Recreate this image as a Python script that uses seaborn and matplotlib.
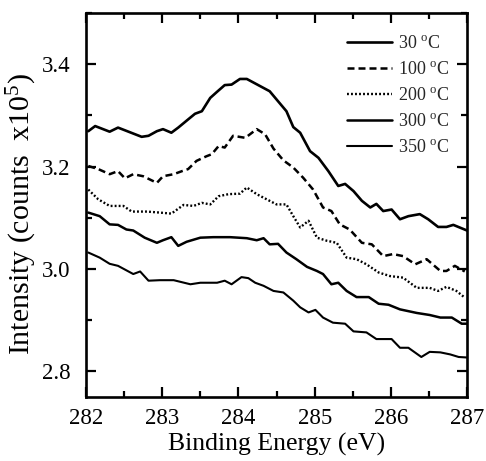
import seaborn as sns
import matplotlib.pyplot as plt
from matplotlib.ticker import MultipleLocator

# --- data ---
e_30 = [282.03, 282.12, 282.31, 282.42, 282.73, 282.82, 282.93, 283.01, 283.12, 283.21,
        283.34, 283.43, 283.52, 283.63, 283.72, 283.82, 283.91, 284.02, 284.11, 284.26,
        284.41, 284.50, 284.63, 284.72, 284.81, 284.94, 285.05, 285.18, 285.31, 285.40,
        285.51, 285.62, 285.73, 285.81, 285.90, 286.01, 286.12, 286.23, 286.38, 286.49,
        286.62, 286.73, 286.82, 287.0]
i_30 = [3.269, 3.279, 3.268, 3.276, 3.258, 3.260, 3.269, 3.273, 3.266, 3.276,
        3.292, 3.303, 3.308, 3.334, 3.346, 3.359, 3.360, 3.371, 3.371, 3.359,
        3.347, 3.331, 3.308, 3.277, 3.266, 3.230, 3.217, 3.191, 3.162, 3.166,
        3.152, 3.133, 3.120, 3.127, 3.113, 3.116, 3.097, 3.103, 3.107, 3.097,
        3.082, 3.082, 3.086, 3.075]

e_100 = [282.03, 282.16, 282.31, 282.42, 282.51, 282.62, 282.75, 282.93, 283.01, 283.15,
         283.26, 283.34, 283.45, 283.58, 283.65, 283.74, 283.82, 283.93, 284.09, 284.24,
         284.35, 284.46, 284.59, 284.72, 284.85, 284.98, 285.11, 285.22, 285.33, 285.46,
         285.62, 285.75, 285.90, 286.03, 286.16, 286.32, 286.47, 286.65, 286.73, 286.84,
         286.97]
i_100 = [3.201, 3.195, 3.185, 3.191, 3.177, 3.185, 3.181, 3.168, 3.181, 3.185,
         3.191, 3.195, 3.211, 3.220, 3.224, 3.240, 3.237, 3.260, 3.256, 3.273,
         3.263, 3.235, 3.212, 3.198, 3.178, 3.155, 3.120, 3.113, 3.087, 3.077,
         3.051, 3.048, 3.025, 3.029, 3.025, 3.009, 3.019, 2.996, 2.996, 3.006,
         2.995]

e_200 = [282.03, 282.16, 282.31, 282.49, 282.60, 282.80, 282.97, 283.12, 283.28, 283.41,
         283.52, 283.63, 283.74, 283.87, 284.02, 284.11, 284.24, 284.37, 284.50, 284.63,
         284.72, 284.81, 284.92, 285.03, 285.16, 285.29, 285.42, 285.55, 285.68, 285.84,
         285.99, 286.16, 286.34, 286.51, 286.62, 286.73, 286.86, 286.97]
i_200 = [3.155, 3.136, 3.123, 3.123, 3.112, 3.112, 3.110, 3.108, 3.125, 3.123,
         3.129, 3.126, 3.142, 3.146, 3.147, 3.159, 3.146, 3.136, 3.126, 3.126,
         3.103, 3.081, 3.094, 3.061, 3.055, 3.051, 3.022, 3.019, 3.009, 2.993,
         2.986, 2.983, 2.963, 2.963, 2.957, 2.965, 2.957, 2.944]

e_300 = [282.03, 282.18, 282.31, 282.42, 282.53, 282.62, 282.77, 282.93, 283.01, 283.12,
         283.21, 283.32, 283.50, 283.67, 283.89, 284.11, 284.24, 284.33, 284.41, 284.52,
         284.63, 284.76, 284.90, 285.03, 285.11, 285.22, 285.31, 285.42, 285.55, 285.71,
         285.84, 285.97, 286.12, 286.34, 286.51, 286.65, 286.80, 286.93, 287.0]
i_300 = [3.110, 3.103, 3.087, 3.086, 3.077, 3.075, 3.061, 3.051, 3.056, 3.062,
         3.045, 3.053, 3.061, 3.062, 3.062, 3.060, 3.056, 3.060, 3.048, 3.049,
         3.032, 3.019, 3.004, 2.996, 2.990, 2.970, 2.973, 2.957, 2.945, 2.945,
         2.932, 2.930, 2.921, 2.914, 2.910, 2.905, 2.905, 2.893, 2.893]

e_350 = [282.03, 282.18, 282.31, 282.42, 282.62, 282.71, 282.82, 282.97, 283.15, 283.37,
         283.50, 283.72, 283.82, 283.91, 284.04, 284.13, 284.22, 284.33, 284.46, 284.59,
         284.72, 284.81, 284.92, 285.01, 285.11, 285.24, 285.40, 285.51, 285.68, 285.81,
         286.01, 286.12, 286.23, 286.40, 286.51, 286.65, 286.78, 286.89, 287.0]
i_350 = [3.032, 3.022, 3.010, 3.006, 2.990, 2.995, 2.977, 2.978, 2.978, 2.970,
         2.973, 2.973, 2.977, 2.970, 2.984, 2.982, 2.973, 2.967, 2.957, 2.954,
         2.938, 2.925, 2.915, 2.920, 2.905, 2.895, 2.893, 2.878, 2.876, 2.863,
         2.863, 2.846, 2.846, 2.828, 2.838, 2.837, 2.833, 2.828, 2.827]

labels = ["30 $^{\\rm o}$C", "100 $^{\\rm o}$C", "200 $^{\\rm o}$C",
          "300 $^{\\rm o}$C", "350 $^{\\rm o}$C"]
styles = ["-", (0, (2.8, 1.6)), (0, (0.8, 0.9)), "-", "-"]
widths = [1.9, 1.8, 1.7, 1.8, 1.5]
series = [(e_30, i_30), (e_100, i_100), (e_200, i_200), (e_300, i_300), (e_350, i_350)]

# --- style ---
sns.set_style("ticks")
plt.rcParams["font.family"] = ["Liberation Serif", "DejaVu Serif"]
plt.rcParams["mathtext.fontset"] = "custom"
plt.rcParams["mathtext.rm"] = "Liberation Serif"
plt.rcParams["mathtext.it"] = "Liberation Serif:italic"

fig = plt.figure(figsize=(4.86, 4.61), dpi=100)
ax = fig.add_axes([0.177, 0.139, 0.784, 0.833])

for (x, y), lab, ls, lw in zip(series, labels, styles, widths):
    sns.lineplot(x=x, y=y, ax=ax, color="black", linestyle=ls, linewidth=lw,
                 label=lab, sort=False, estimator=None)

ax.set_xlim(282, 287)
ax.set_ylim(2.75, 3.5)
ax.xaxis.set_major_locator(MultipleLocator(1))
ax.xaxis.set_minor_locator(MultipleLocator(0.5))
ax.yaxis.set_major_locator(MultipleLocator(0.2))
ax.yaxis.set_minor_locator(MultipleLocator(0.1))
ax.tick_params(which="both", direction="in", top=True, right=True, width=1.6,
               labelsize=16.5, color="black", labelcolor="black")
ax.tick_params(axis="x", pad=8)
ax.tick_params(axis="y", pad=11)
ax.tick_params(which="major", length=7)
ax.tick_params(which="minor", length=4)
for sp in ax.spines.values():
    sp.set_linewidth(1.9)
    sp.set_color("black")

ax.set_xlabel("Binding Energy (eV)", fontsize=18.5, labelpad=3, color="black")
ax.set_ylabel("Intensity (counts  x10$^5$)", fontsize=21.5, color="black")
ax.yaxis.set_label_coords(-0.123, 0.477)

ax.legend(loc="upper left", bbox_to_anchor=(0.685, 0.942), frameon=False,
          fontsize=13, handlelength=2.5, handletextpad=0.3, labelspacing=0.5,
          borderpad=0, borderaxespad=0)

fig.savefig("out.png", dpi=100)
plt.close(fig)
